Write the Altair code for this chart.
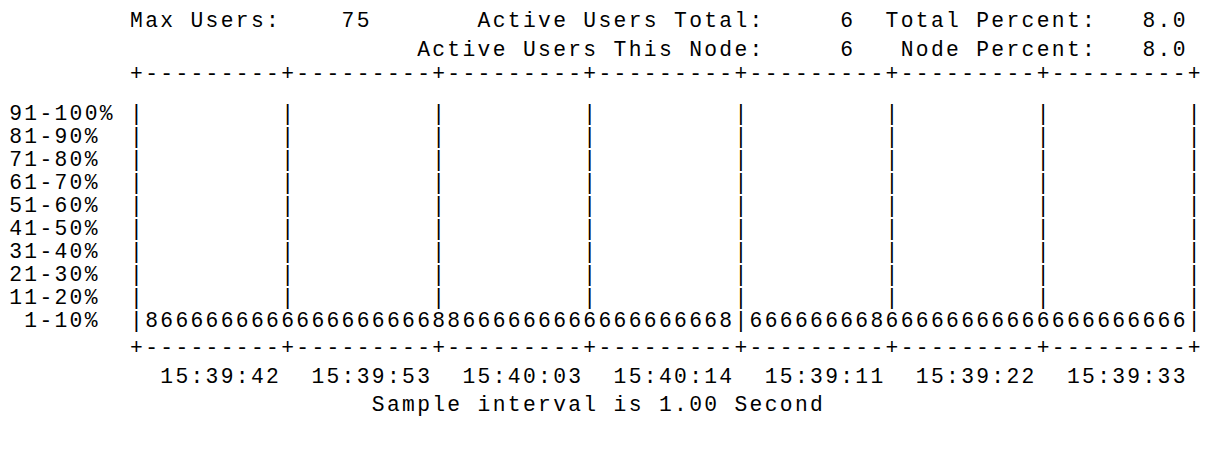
import altair as alt
import pandas as pd

# ---------------- data ----------------
header_line1 = ["Max Users:", "75", "Active Users Total:", "6", "Total Percent:", "8.0"]
header_line2 = ["Active Users This Node:", "6", "Node Percent:", "8.0"]

row_labels = ["91-100%", "81-90%", "71-80%", "61-70%", "51-60%",
              "41-50%", "31-40%", "21-30%", "11-20%", "1-10%"]

# one digit per sample column; "|" marks the current write position
samples_before = list("8" "666666666" "666666666" "88" "66666666" "666666666" "8")
samples_after = list("66666666" "8" "6666666666" "6666666666")
sample_row = "1-10%"

time_labels = ["15:39:42", "15:39:53", "15:40:03", "15:40:14",
               "15:39:11", "15:39:22", "15:39:33"]
footer = "Sample interval is 1.00 Second"

# ---------------- layout (character grid) ----------------
header_line1_cols = [8, 22, 31, 55, 58, 75]
header_line2_cols = [27, 55, 59, 75]
footer_col = 24
CW = 15.25          # grid cell width (px)
FS = 21.5           # font size (px)
W, H = 1201, 456
GRID_LEFT = 8
SEG = 10
N_SEG = len(time_labels)
# baseline (px, chart coords) of each text line, top to bottom
LINE_Y = [5, 34, 59, 99, 122, 145, 169, 192, 215, 238, 261, 285, 308, 335, 364, 393]
FONT = "Liberation Mono, Courier New, monospace"

cells = []


def put(text, col, line):
    for i, ch in enumerate(text):
        if ch != " ":
            cells.append({"col": col + i + 0.5, "line": line, "text": ch})


for t, c in zip(header_line1, header_line1_cols):
    put(t, c, 0)
for t, c in zip(header_line2, header_line2_cols):
    put(t, c, 1)
border = "+" + "+".join(["-" * (SEG - 1)] * N_SEG) + "+"
put(border, GRID_LEFT, 2)

samples = samples_before + ["|"] + samples_after
for i, lab in enumerate(row_labels):
    line = 3 + i
    put(lab, max(0, 6 - len(lab)), line)
    if lab == sample_row:
        put("|", GRID_LEFT, line)
        for j, s in enumerate(samples):
            put(s, GRID_LEFT + 1 + j, line)
        put("|", GRID_LEFT + SEG * N_SEG, line)
    else:
        for k in range(N_SEG + 1):
            put("|", GRID_LEFT + SEG * k, line)

put(border, GRID_LEFT, 3 + len(row_labels))
for j, t in enumerate(time_labels):
    put(t, GRID_LEFT + 2 + SEG * j, 4 + len(row_labels))
put(footer, footer_col, 5 + len(row_labels))

df = pd.DataFrame(cells)
df["ypx"] = [LINE_Y[l] for l in df["line"]]

xs = alt.Scale(domain=[0, W / CW], range=[0, W], zero=False, nice=False)
ys = alt.Scale(domain=[0, H], range=[0, H], zero=False, nice=False)

chart = alt.Chart(df).mark_text(
    align="center", baseline="alphabetic", font=FONT, fontSize=FS, color="#000000"
).encode(
    x=alt.X("col:Q", scale=xs, axis=None),
    y=alt.Y("ypx:Q", scale=ys, axis=None),
    text="text:N",
).properties(
    width=W, height=H, padding=0, background="white"
).configure_view(stroke=None)

chart.save("out.html", embed_options={"renderer": "svg", "actions": False})
